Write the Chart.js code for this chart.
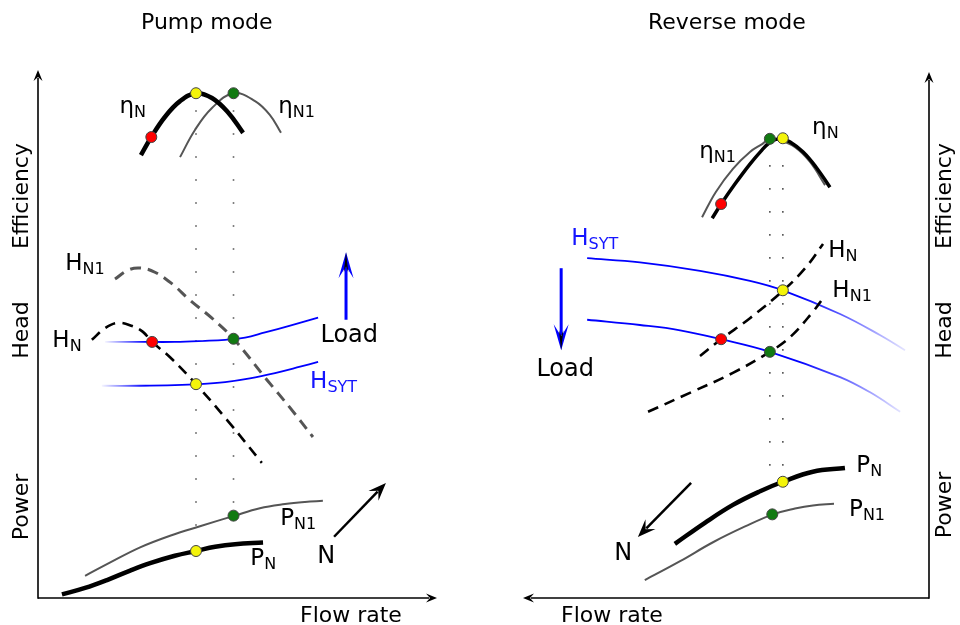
<!DOCTYPE html>
<html>
<head>
<meta charset="utf-8">
<script src="https://cdn.jsdelivr.net/npm/chart.js@4.4.1/dist/chart.umd.min.js"></script>
<style>
  html, body { margin: 0; padding: 0; background: #fff; }
  #wrap { width: 960px; height: 625px; display: flex; }
  canvas { display: block; }
</style>
</head>
<body>
<div id="wrap">
  <canvas id="pump" width="480" height="625"></canvas>
  <canvas id="reverse" width="480" height="625"></canvas>
</div>
<script>
// values are [flow, value] in % of the axis length

// pump mode
var pumpEtaN   = [[25.8,83.9],[28.4,87.3],[31.8,91.1],[35.6,94.1],[39.6,95.6],[43.6,94.7],[47.6,92.0],[51.4,88.1]];
var pumpEtaN1  = [[35.6,83.5],[39.3,88.6],[43.6,92.8],[49.0,95.6],[54.4,94.1],[58.1,91.5],[60.9,88.1]];
var pumpHeadN  = [[13.5,48.9],[16.8,51.1],[20.1,52.1],[23.6,51.5],[26.3,50.4],[28.6,48.5],[33.1,45.6],[39.6,40.5],[47.4,33.7],[56.1,25.6]];
var pumpHeadN1 = [[19.3,60.4],[22.6,62.1],[25.6,62.5],[29.3,61.7],[33.6,59.5],[38.1,56.4],[43.6,53.0],[49.0,49.1],[57.4,41.3],[63.2,36.0],[68.9,30.5]];
var pumpSysHi  = [[16.8,48.5],[25.6,48.5],[34.3,48.5],[41.9,48.7],[46.9,48.9],[51.9,49.3],[56.9,50.3],[63.2,51.6],[70.2,53.1]];
var pumpSysLo  = [[16.0,40.2],[25.6,40.2],[34.3,40.3],[40.6,40.5],[46.9,40.9],[53.1,41.6],[59.4,42.6],[65.7,43.8],[70.2,44.7]];
var pumpPowN   = [[6.0,0.7],[11.8,1.9],[17.3,3.4],[23.1,5.2],[28.1,6.6],[34.3,8.0],[39.6,8.9],[44.4,9.7],[49.4,10.2],[56.4,10.5]];
var pumpPowN1  = [[11.8,4.2],[18.0,6.7],[25.6,9.6],[33.1,11.8],[40.6,13.6],[48.9,15.5],[55.6,17.0],[61.9,17.8],[66.9,18.2],[71.4,18.4]];
var pumpGuideA = [[39.6,92.4],[39.6,9.8]];
var pumpGuideB = [[49.0,92.4],[49.0,16.3]];
var pumpRed    = [[28.4,87.3],[28.6,48.5]];
var pumpYellow = [[39.6,95.6],[39.6,40.5],[39.6,8.9]];
var pumpGreen  = [[49.0,95.6],[49.0,49.1],[49.0,15.6]];

// reverse mode (flow axis points left)
var revEtaN    = [[53.4,72.2],[51.2,74.9],[47.8,78.7],[44.1,82.5],[41.1,85.2],[39.4,86.5],[37.7,87.2],[36.0,87.2],[34.2,86.7],[31.0,84.8],[27.8,81.9],[24.4,78.1]];
var revEtaN1   = [[55.9,72.4],[52.5,77.2],[48.3,81.6],[44.1,84.8],[41.1,86.3],[39.2,87.3],[36.7,87.0],[33.0,85.7],[29.3,82.9],[25.6,78.5]];
var revHeadN   = [[56.4,46.0],[51.2,49.2],[44.1,53.2],[36.0,58.4],[30.5,62.7],[26.1,67.3]];
var revHeadN1  = [[69.2,35.4],[58.9,39.0],[48.3,42.8],[39.2,46.8],[34.2,49.6],[28.6,54.4],[26.1,57.0]];
var revSysHi   = [[84.2,64.6],[71.2,63.8],[56.4,62.2],[44.1,60.3],[36.0,58.5],[21.9,54.0],[12.1,50.0],[5.9,47.1]];
var revSysLo   = [[84.2,52.9],[71.2,51.9],[61.3,50.9],[51.2,49.2],[39.2,46.8],[21.9,42.0],[14.5,39.1],[7.1,35.4]];
var revPowN    = [[62.6,10.3],[55.2,14.3],[48.3,17.7],[41.6,20.3],[36.0,22.1],[28.6,24.0],[20.7,24.7]];
var revPowN1   = [[70.0,3.4],[61.3,7.0],[53.2,10.6],[45.3,13.6],[38.4,15.9],[33.0,17.0],[28.6,17.6],[23.4,17.9]];
var revGuideA  = [[39.2,82.3],[39.2,20.0]];
var revGuideB  = [[36.0,82.3],[36.0,24.3]];
var revRed     = [[51.2,74.9],[51.2,49.2]];
var revYellow  = [[36.0,87.4],[36.0,58.5],[36.0,22.1]];
var revGreen   = [[39.2,87.3],[39.2,46.8],[38.6,15.9]];

// curve labels: [main, subscript, flow, value, colour, size]
var pumpLabels = [
  ['η','N',20.4,91.9,'#000',23], ['η','N1',60.2,91.9,'#000',23],
  ['H','N1',6.8,62.1,'#000',23], ['H','N',3.6,47.5,'#000',23],
  ['H','SYT',68.2,39.8,'#1515ff',23], ['Load','',70.8,48.5,'#000',24],
  ['P','N1',60.7,13.8,'#000',23], ['P','N',53.2,6.25,'#000',23], ['N','',70.0,6.6,'#000',24]
];
var revLabels = [
  ['η','N',28.8,88.2,'#000',23], ['η','N1',56.6,83.7,'#000',23],
  ['H','N',24.8,64.8,'#000',23], ['H','N1',23.8,57.2,'#000',23],
  ['H','SYT',88.1,67.1,'#1515ff',23], ['Load','',96.7,42.2,'#000',24],
  ['P','N',17.9,24.0,'#000',23], ['P','N1',19.7,15.6,'#000',23], ['N','',77.5,7.2,'#000',24]
];
// arrows: [fromFlow, fromValue, toFlow, toValue]
var pumpLoadArrow = [77.2,52.7,77.2,65.5];
var pumpSpeedArrow = [74.2,11.6,87.2,21.8];
var revLoadArrow = [90.6,62.7,90.6,47.1];
var revSpeedArrow = [58.6,21.9,71.7,11.6];

var FONT = '"DejaVu Sans", Verdana, sans-serif';

function pts(arr) {
  return arr.map(function(p) { return {x: p[0], y: p[1]}; });
}

function fadeBlue(from, to) {
  return function(c) {
    var chart = c.chart;
    if (!chart.chartArea) return '#0000ff';
    var xs = chart.scales.x;
    var g = chart.ctx.createLinearGradient(xs.getPixelForValue(from), 0, xs.getPixelForValue(to), 0);
    g.addColorStop(0, 'rgba(0,0,255,0.04)');
    g.addColorStop(1, 'rgba(0,0,255,1)');
    return g;
  };
}

function curve(data, color, width, dash) {
  return {
    data: pts(data), showLine: true, borderColor: color, borderWidth: width,
    borderDash: dash || [], pointRadius: 0, pointHoverRadius: 0,
    tension: 0.4, fill: false, order: 2, borderCapStyle: 'butt'
  };
}

function guide(data) {
  return {
    data: pts(data), showLine: true, borderColor: '#555', borderWidth: 1.6,
    borderDash: [1.6, 21.4], pointRadius: 0, pointHoverRadius: 0, order: 3
  };
}

function dots(data, color) {
  return {
    data: pts(data), showLine: false, pointRadius: 5.5, pointHoverRadius: 5.5,
    pointBackgroundColor: color, pointBorderColor: '#444', pointBorderWidth: 1, order: 0
  };
}

function head(ctx, x1, y1, x2, y2, len, half, notch, fill) {
  var a = Math.atan2(y2 - y1, x2 - x1);
  ctx.save();
  ctx.translate(x2, y2);
  ctx.rotate(a);
  ctx.beginPath();
  ctx.moveTo(0, 0);
  ctx.lineTo(-len, -half);
  ctx.lineTo(-notch, 0);
  ctx.lineTo(-len, half);
  ctx.closePath();
  ctx.fillStyle = fill;
  ctx.fill();
  ctx.restore();
}

function arrowLine(ctx, x1, y1, x2, y2, width, color, len, half, notch, headColor) {
  var a = Math.atan2(y2 - y1, x2 - x1);
  ctx.save();
  ctx.strokeStyle = color;
  ctx.lineWidth = width;
  ctx.beginPath();
  ctx.moveTo(x1, y1);
  ctx.lineTo(x2 - Math.cos(a) * (notch + 1), y2 - Math.sin(a) * (notch + 1));
  ctx.stroke();
  ctx.restore();
  head(ctx, x1, y1, x2, y2, len, half, notch, headColor || color);
}

function decor(cfg) {
  return {
    id: 'decor',
    afterDraw: function(chart) {
      var ctx = chart.ctx, ca = chart.chartArea, xs = chart.scales.x, ys = chart.scales.y;
      var px = function(v) { return xs.getPixelForValue(v); };
      var py = function(v) { return ys.getPixelForValue(v); };

      // axes with arrow tips
      var ox = cfg.side === 'left' ? ca.left : ca.right;
      var tipX = cfg.side === 'left' ? ca.right : ca.left;
      arrowLine(ctx, ox, ca.bottom + 0.8, ox, ca.top, 1.6, '#000', 11, 4.5, 7);
      arrowLine(ctx, ox, ca.bottom, tipX, ca.bottom, 1.6, '#000', 11, 4.5, 7);

      // load arrow (blue with dark core)
      var la = cfg.load;
      var lx1 = px(la[0]), ly1 = py(la[1]), lx2 = px(la[2]), ly2 = py(la[3]);
      arrowLine(ctx, lx1, ly1, lx2, ly2, 3, '#0000ff', 26, 7.5, 14);
      head(ctx, lx1, ly1, lx2, ly2, 20, 2.2, 14, '#000');

      // speed arrow
      var sa = cfg.speed;
      arrowLine(ctx, px(sa[0]), py(sa[1]), px(sa[2]), py(sa[3]), 2.5, '#000', 18, 7, 11);

      // curve labels
      ctx.save();
      ctx.textBaseline = 'alphabetic';
      ctx.textAlign = 'left';
      cfg.labels.forEach(function(l) {
        var x = px(l[2]), y = py(l[3]);
        ctx.fillStyle = l[4];
        ctx.font = l[5] + 'px ' + FONT;
        ctx.fillText(l[0], x, y);
        if (l[1]) {
          var w = ctx.measureText(l[0]).width;
          ctx.font = '16px ' + FONT;
          ctx.fillText(l[1], x + w, y + 4);
        }
      });

      // titles
      ctx.fillStyle = '#000';
      ctx.font = '22px ' + FONT;
      ctx.fillText(cfg.title, cfg.titleX, 29);
      ctx.fillText('Flow rate', cfg.flowX, 622);

      ctx.textAlign = 'center';
      cfg.axisTitles.forEach(function(t) {
        ctx.save();
        ctx.translate(cfg.axisTitleX, t[1]);
        ctx.rotate(-Math.PI / 2);
        ctx.fillText(t[0], 0, 0);
        ctx.restore();
      });
      ctx.restore();
    }
  };
}

function makeChart(id, datasets, reverse, padding, cfg) {
  return new Chart(document.getElementById(id), {
    type: 'scatter',
    data: { datasets: datasets },
    options: {
      responsive: false,
      animation: false,
      events: [],
      layout: { padding: padding },
      plugins: { legend: { display: false }, tooltip: { enabled: false } },
      scales: {
        x: { type: 'linear', min: 0, max: 100, reverse: reverse, display: false },
        y: { type: 'linear', min: 0, max: 100, display: false }
      }
    },
    plugins: [decor(cfg)]
  });
}

makeChart('pump', [
  dots(pumpRed, '#ff0000'), dots(pumpYellow, '#f4f40a'), dots(pumpGreen, '#127a12'),
  curve(pumpEtaN, '#000', 4.5), curve(pumpEtaN1, '#555', 2),
  curve(pumpHeadN, '#000', 2.6, [11, 7]), curve(pumpHeadN1, '#555', 3, [11, 7]),
  curve(pumpSysHi, fadeBlue(16.8, 27), 1.8), curve(pumpSysLo, fadeBlue(16.0, 27), 1.8),
  curve(pumpPowN, '#000', 4.5), curve(pumpPowN1, '#555', 2),
  guide(pumpGuideA), guide(pumpGuideB)
], false, { left: 38, right: 43, top: 70, bottom: 27 }, {
  side: 'left', load: pumpLoadArrow, speed: pumpSpeedArrow, labels: pumpLabels,
  title: 'Pump mode', titleX: 141, flowX: 300, axisTitleX: 28,
  axisTitles: [['Efficiency', 196], ['Head', 330], ['Power', 507]]
});

makeChart('reverse', [
  dots(revRed, '#ff0000'), dots(revYellow, '#f4f40a'), dots(revGreen, '#127a12'),
  curve(revEtaN, '#000', 3.5), curve(revEtaN1, '#555', 2),
  curve(revHeadN, '#000', 2.6, [11, 7]), curve(revHeadN1, '#000', 2.6, [11, 7]),
  curve(revSysHi, fadeBlue(4, 32), 1.8), curve(revSysLo, fadeBlue(5, 32), 1.8),
  curve(revPowN, '#000', 4.5), curve(revPowN1, '#555', 2),
  guide(revGuideA), guide(revGuideB)
], true, { left: 43, right: 31, top: 72, bottom: 27 }, {
  side: 'right', load: revLoadArrow, speed: revSpeedArrow, labels: revLabels,
  title: 'Reverse mode', titleX: 168, flowX: 81, axisTitleX: 471,
  axisTitles: [['Efficiency', 196], ['Head', 330], ['Power', 505]]
});
</script>
</body>
</html>
